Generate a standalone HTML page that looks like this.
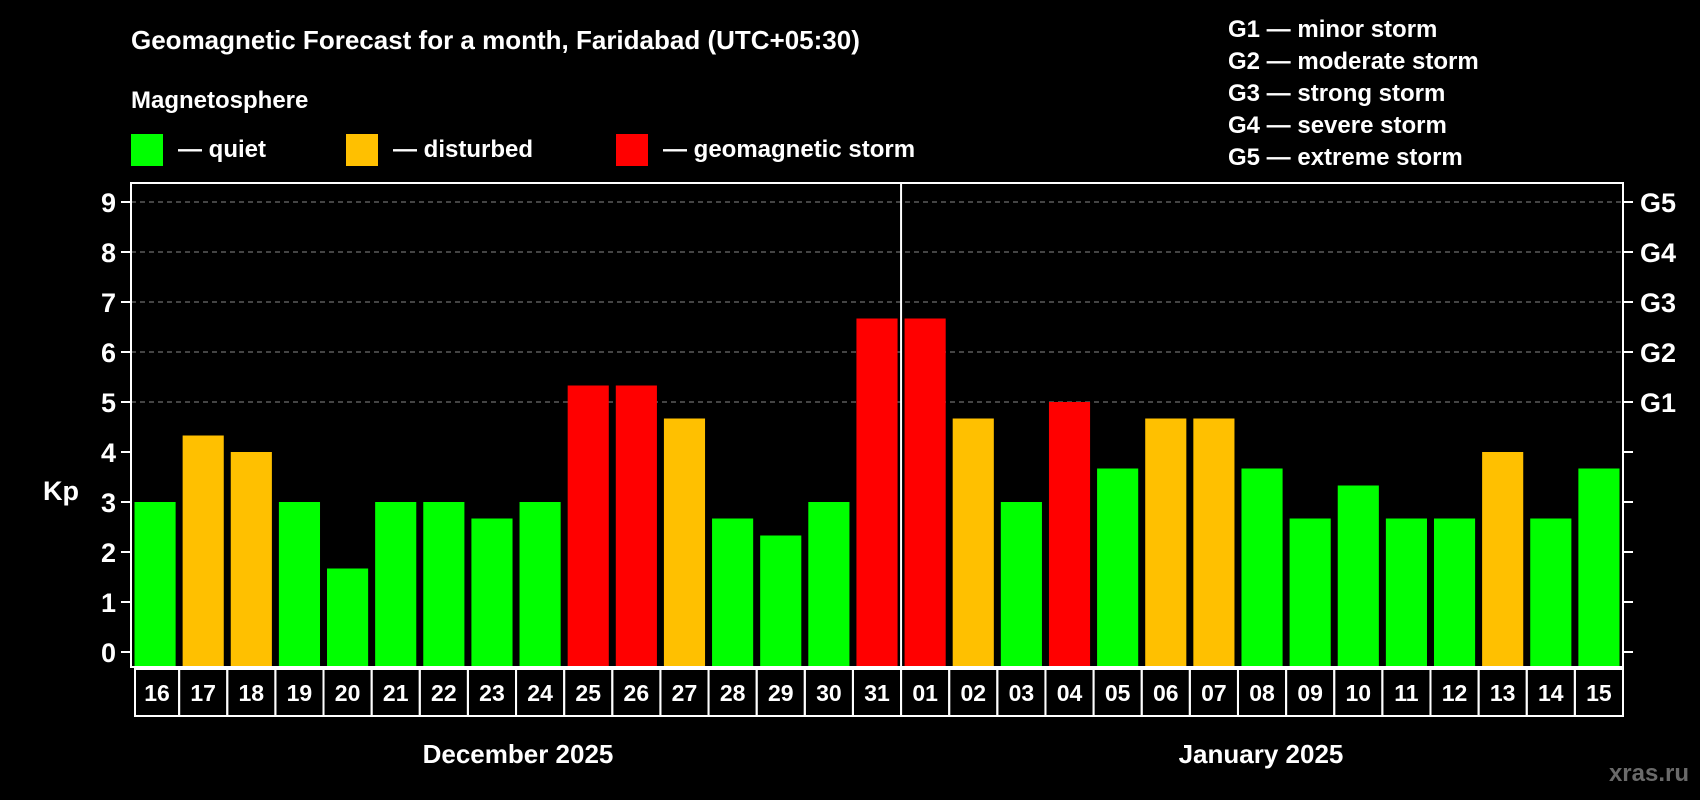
<!DOCTYPE html>
<html><head><meta charset="utf-8"><style>
html,body{margin:0;padding:0;background:#000;}
svg{display:block;font-family:"Liberation Sans",Arial,sans-serif;font-weight:bold;}
</style></head><body>
<svg id="chart" width="1700" height="800" viewBox="0 0 1700 800">
<rect width="1700" height="800" fill="#000"/>
<text x="131" y="49" fill="#fff" font-size="26">Geomagnetic Forecast for a month, Faridabad (UTC+05:30)</text>
<text x="131" y="108" fill="#fff" font-size="24">Magnetosphere</text>
<g><rect x="131" y="134" width="32" height="32" fill="#00ff00"/><text x="178" y="157" fill="#fff" font-size="24">— quiet</text></g>
<g><rect x="346" y="134" width="32" height="32" fill="#ffc000"/><text x="393" y="157" fill="#fff" font-size="24">— disturbed</text></g>
<g><rect x="616" y="134" width="32" height="32" fill="#ff0000"/><text x="663" y="157" fill="#fff" font-size="24">— geomagnetic storm</text></g>
<g fill="#fff" font-size="24">
<text x="1228" y="37">G1 — minor storm</text>
<text x="1228" y="69">G2 — moderate storm</text>
<text x="1228" y="101">G3 — strong storm</text>
<text x="1228" y="133">G4 — severe storm</text>
<text x="1228" y="165">G5 — extreme storm</text>
</g>
<text x="43" y="500" fill="#fff" font-size="27">Kp</text>
<g id="grid"></g><g id="bars"></g><g id="axes"></g>
<text x="518" y="763" fill="#fff" font-size="26" text-anchor="middle">December 2025</text>
<text x="1261" y="763" fill="#fff" font-size="26" text-anchor="middle">January 2025</text>
<text x="1689" y="781" fill="#6a6a6a" font-size="24" text-anchor="end">xras.ru</text>
</svg>
<script>
const days = ["16","17","18","19","20","21","22","23","24","25","26","27","28","29","30","31","01","02","03","04","05","06","07","08","09","10","11","12","13","14","15"];
const kpValues = [3,4.33,4,3,1.67,3,3,2.67,3,5.33,5.33,4.67,2.67,2.33,3,6.67,6.67,4.67,3,5,3.67,4.67,4.67,3.67,2.67,3.33,2.67,2.67,4,2.67,3.67];
const yTicks = ["0","1","2","3","4","5","6","7","8","9"];
const gLabels = ["G1","G2","G3","G4","G5"];
const NS="http://www.w3.org/2000/svg";
const L=131,R=1623,T=183,B=667,Y0=652,UNIT=50;
const slot=(R-L)/days.length;
function y(v){return Y0-v*UNIT;}
function xs(i){return L+i*slot;}
function mk(tag,attrs,parent){const e=document.createElementNS(NS,tag);for(const k in attrs)e.setAttribute(k,attrs[k]);parent.appendChild(e);return e;}
const grid=document.getElementById('grid'),bars=document.getElementById('bars'),axes=document.getElementById('axes');
yTicks.forEach((t,i)=>{
  const v=+t;
  if(v>=5){const g=mk('line',{x1:L,x2:R,y1:y(v),y2:y(v),stroke:'#888','stroke-dasharray':'5,4','stroke-width':1},grid);
  
  }
  mk('line',{x1:L-10,x2:L,y1:y(v),y2:y(v),stroke:'#fff','stroke-width':2},axes);
  mk('line',{x1:R,x2:R+10,y1:y(v),y2:y(v),stroke:'#fff','stroke-width':2},axes);
  const tx=mk('text',{x:116,y:y(v)+10,fill:'#fff','font-size':27,'text-anchor':'end'},axes);
  tx.textContent=t;
  
  
});
gLabels.forEach((g,i)=>{
  const tx=mk('text',{x:1640,y:y(5+i)+10,fill:'#fff','font-size':27},axes);
  tx.textContent=g;
  
  
});
kpValues.forEach((v,i)=>{
  const c=v>=5?'#ff0000':(v>=4?'#ffc000':'#00ff00');
  const b=mk('rect',{x:xs(i)+3.5,y:y(v),width:slot-7,height:B-y(v),fill:c},bars);
  
  
  const bx=mk('rect',{x:xs(i)+(i==0?4:0),y:B+2,width:slot-(i==0?4:0),height:47,fill:'none',stroke:'#fff','stroke-width':2},axes);
  
  
  const tx=mk('text',{x:xs(i)+slot/2+(i==0?2:0),y:B+34,fill:'#fff','font-size':23,'text-anchor':'middle'},axes);
  tx.textContent=days[i];
  
  
});
const fr=mk('rect',{x:L,y:T,width:R-L,height:B-T,fill:'none',stroke:'#fff','stroke-width':2},axes);


const sep=mk('line',{x1:xs(16),x2:xs(16),y1:T,y2:B,stroke:'#fff','stroke-width':2},axes);


</script>
</body></html>
